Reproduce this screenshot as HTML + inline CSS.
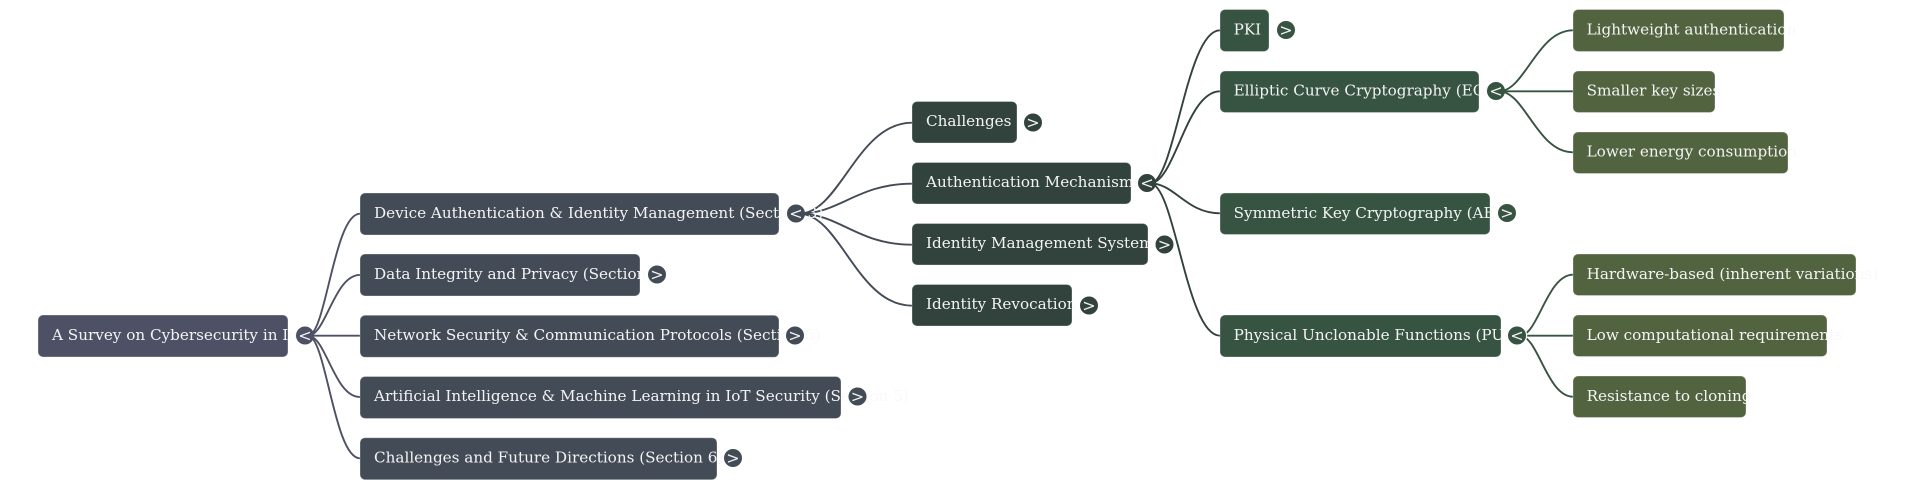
<!DOCTYPE html>
<html lang="en"><head><meta charset="utf-8"><title>A Survey on Cybersecurity in IoT</title>
<style>
html,body{margin:0;padding:0;background:#fff;width:1920px;height:489px;overflow:hidden}
svg{display:block}
.t{font-family:"DejaVu Serif",serif;font-size:15.2px;fill:#f9f9f9;fill-opacity:.97}
.c{font-family:"DejaVu Sans",sans-serif;font-size:16px;fill:#f0f0f0;text-anchor:middle}
.l{fill:none;stroke-width:1.9}
.n{stroke:#fff;stroke-opacity:.3;stroke-width:1}
</style></head><body>
<svg width="1920" height="489" viewBox="0 0 1920 489" xmlns="http://www.w3.org/2000/svg">
<g class="l" stroke="#4e5165">
<path d="M308 335.700C326 335.700 334 213.700 360 213.700"/>
<path d="M308 335.700C326 335.700 334 274.900 360 274.900"/>
<path d="M308 335.700L360 335.700"/>
<path d="M308 335.700C326 335.700 334 397 360 397"/>
<path d="M308 335.700C326 335.700 334 458.300 360 458.300"/>
</g>
<g class="l" stroke="#434b56">
<path d="M799 213.700C840 213.700 857 122.700 912 122.700"/>
<path d="M799 213.700C840 213.700 857 183.700 912 183.700"/>
<path d="M799 213.700C840 213.700 857 244.700 912 244.700"/>
<path d="M799 213.700C840 213.700 857 305.700 912 305.700"/>
</g>
<g class="l" stroke="#32423c">
<path d="M1150 183.300C1175 183.300 1186 30.300 1220 30.300"/>
<path d="M1150 183.300C1175 183.300 1186 91.300 1220 91.300"/>
<path d="M1150 183.300C1175 183.300 1186 213.300 1220 213.300"/>
<path d="M1150 183.300C1175 183.300 1186 335.700 1220 335.700"/>
</g>
<g class="l" stroke="#375341">
<path d="M1499 91.300C1525 91.300 1537 30.300 1573 30.300"/>
<path d="M1499 91.300L1573 91.300"/>
<path d="M1499 91.300C1525 91.300 1537 152.300 1573 152.300"/>
<path d="M1520 335.700C1538 335.700 1547 274.700 1573 274.700"/>
<path d="M1520 335.700L1573 335.700"/>
<path d="M1520 335.700C1538 335.700 1547 396.700 1573 396.700"/>
</g>

<g class="n">
<rect x="38" y="315" width="250" height="42" rx="5" fill="#4e5165"/>
<g fill="#434b56">
<rect x="360" y="193" width="419" height="42" rx="5"/>
<rect x="360" y="254" width="280" height="42" rx="5"/>
<rect x="360" y="315.300" width="419" height="42" rx="5"/>
<rect x="360" y="376.500" width="481" height="42" rx="5"/>
<rect x="360" y="437.700" width="357" height="42" rx="5"/>
</g>
<g fill="#32423c">
<rect x="912" y="101.500" width="105" height="41.500" rx="5"/>
<rect x="912" y="162.500" width="219" height="41.500" rx="5"/>
<rect x="912" y="223.500" width="236" height="41.500" rx="5"/>
<rect x="912" y="284.500" width="160" height="41.500" rx="5"/>
</g>
<g fill="#375341">
<rect x="1220" y="9.500" width="49" height="42" rx="5"/>
<rect x="1220" y="71" width="259" height="41.500" rx="5"/>
<rect x="1220" y="193" width="270" height="41.500" rx="5"/>
<rect x="1220" y="315" width="281" height="42" rx="5"/>
</g>
<g fill="#526340">
<rect x="1573" y="9.500" width="211" height="42" rx="5"/>
<rect x="1573" y="71" width="142" height="41.500" rx="5"/>
<rect x="1573" y="132" width="215" height="41.500" rx="5"/>
<rect x="1573" y="254" width="283" height="41.500" rx="5"/>
<rect x="1573" y="315" width="254" height="41.500" rx="5"/>
<rect x="1573" y="376" width="173" height="41.500" rx="5"/>
</g>
</g>

<g class="t">
<text x="52" y="340">A Survey on Cybersecurity in IoT</text>
<text x="374" y="217.800">Device Authentication &amp; Identity Management (Section 3)</text>
<text x="374" y="278.800">Data Integrity and Privacy (Section 4)</text>
<text x="374" y="340">Network Security &amp; Communication Protocols (Section 5)</text>
<text x="374" y="401.200">Artificial Intelligence &amp; Machine Learning in IoT Security (Section 5)</text>
<text x="374" y="462.500">Challenges and Future Directions (Section 6)</text>
<text x="926" y="126.200">Challenges</text>
<text x="926" y="187.200">Authentication Mechanisms</text>
<text x="926" y="248.200">Identity Management Systems</text>
<text x="926" y="309.200">Identity Revocation</text>
<text x="1233.600" y="34.500">PKI</text>
<text x="1233.600" y="95.500">Elliptic Curve Cryptography (ECC)</text>
<text x="1233.600" y="217.800">Symmetric Key Cryptography (AES)</text>
<text x="1233.600" y="340">Physical Unclonable Functions (PUFs)</text>
<text x="1586.600" y="34.500">Lightweight authentication</text>
<text x="1586.600" y="95.500">Smaller key sizes</text>
<text x="1586.600" y="156.500">Lower energy consumption</text>
<text x="1586.600" y="278.800">Hardware-based (inherent variations)</text>
<text x="1586.600" y="340">Low computational requirements</text>
<text x="1586.600" y="401">Resistance to cloning</text>
</g>

<g fill="#4e5165"><circle cx="305" cy="335.500" r="9"/></g>
<g fill="#434b56">
<circle cx="796" cy="213.500" r="9"/><circle cx="657" cy="274.500" r="9"/><circle cx="795" cy="335.500" r="9"/><circle cx="857.500" cy="396.500" r="9"/><circle cx="733" cy="458" r="9"/>
</g>
<g fill="#32423c">
<circle cx="1033" cy="122.500" r="9"/><circle cx="1147" cy="183" r="9"/><circle cx="1164.500" cy="244.500" r="9"/><circle cx="1089" cy="305.500" r="9"/>
</g>
<g fill="#375341">
<circle cx="1286" cy="30" r="9"/><circle cx="1496" cy="91" r="9"/><circle cx="1507" cy="213" r="9"/><circle cx="1517" cy="335.500" r="9"/>
</g>
<g class="c">
<text x="305" y="341">&lt;</text>
<text x="796" y="219">&lt;</text><text x="657" y="280">&gt;</text><text x="795" y="341">&gt;</text><text x="857.500" y="402">&gt;</text><text x="733" y="463.500">&gt;</text>
<text x="1033" y="128">&gt;</text><text x="1147" y="188.500">&lt;</text><text x="1164.500" y="250">&gt;</text><text x="1089" y="311">&gt;</text>
<text x="1286" y="35.500">&gt;</text><text x="1496" y="96.500">&lt;</text><text x="1507" y="218.500">&gt;</text><text x="1517" y="341">&lt;</text>
</g>
</svg>
</body></html>
